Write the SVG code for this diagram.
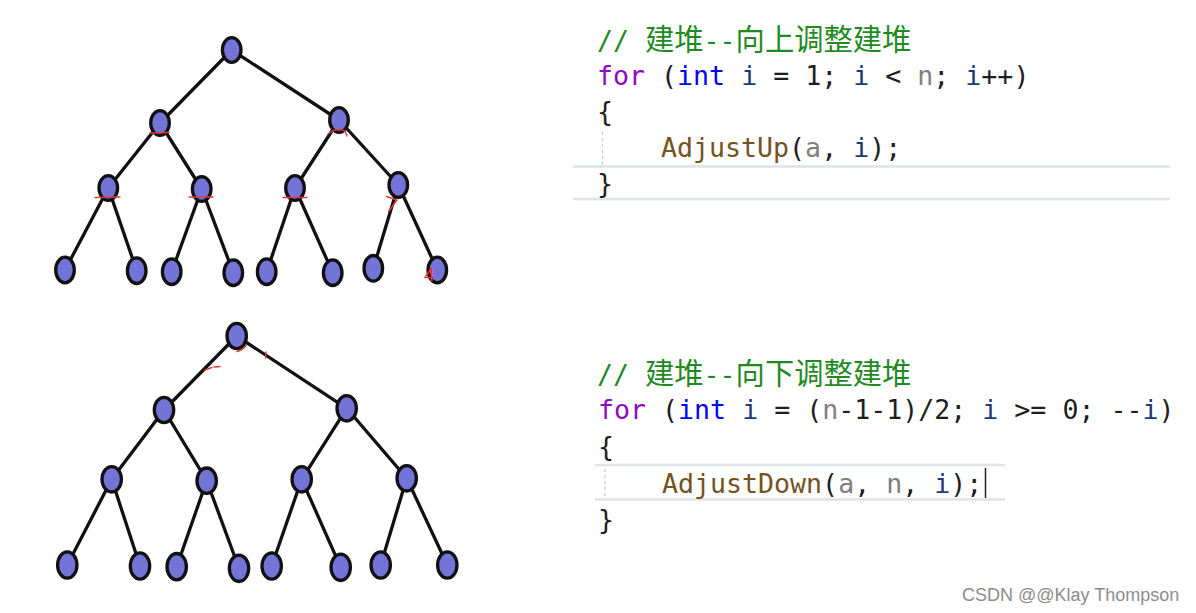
<svg xmlns="http://www.w3.org/2000/svg" width="1196" height="613" viewBox="0 0 1196 613">
<style>
.edge{stroke:#111;stroke-width:3.3;stroke-linecap:round;fill:none}
.node ellipse{fill:#7373d8;stroke:#111;stroke-width:3.3}
.mark{stroke:#e23a3a;stroke-width:1.4;fill:none;stroke-linecap:round}
.code{font-family:"DejaVu Sans Mono","Liberation Mono",monospace;font-size:26.6px;fill:#1e1e1e}
.cjk{font-family:"Noto Sans CJK SC","Noto Sans",sans-serif;font-size:29.3px;fill:#1f8a1f}
.cm{fill:#1f8a1f}
.kw{fill:#8f08c4}
.ty{fill:#0000ff}
.var{fill:#1f377f}
.par{fill:#808080}
.fn{fill:#74531f}
.sep{stroke:#e0e2ea;stroke-width:2.5}
.guide{stroke:#c8c8c8;stroke-width:1.2;stroke-dasharray:3 3}
</style>
<rect width="1196" height="613" fill="#ffffff"/>

<g id="connectors">
  <line class="edge" x1="231.7" y1="50" x2="160" y2="123"/>
  <line class="edge" x1="231.7" y1="50" x2="339" y2="120"/>
  <line class="edge" x1="160" y1="123" x2="108.3" y2="188"/>
  <line class="edge" x1="160" y1="123" x2="201.7" y2="189"/>
  <line class="edge" x1="339" y1="120" x2="295" y2="188"/>
  <line class="edge" x1="339" y1="120" x2="398.3" y2="185"/>
  <line class="edge" x1="108.3" y1="188" x2="65" y2="270"/>
  <line class="edge" x1="108.3" y1="188" x2="136.7" y2="270.7"/>
  <line class="edge" x1="201.7" y1="189" x2="171.7" y2="271.7"/>
  <line class="edge" x1="201.7" y1="189" x2="233.3" y2="272.7"/>
  <line class="edge" x1="295" y1="188" x2="266.7" y2="271.7"/>
  <line class="edge" x1="295" y1="188" x2="332.7" y2="272.7"/>
  <line class="edge" x1="398.3" y1="185" x2="373.3" y2="268.3"/>
  <line class="edge" x1="398.3" y1="185" x2="437.3" y2="270"/>
  <line class="edge" x1="236.7" y1="336" x2="164" y2="410"/>
  <line class="edge" x1="236.7" y1="336" x2="346.7" y2="408.3"/>
  <line class="edge" x1="164" y1="410" x2="111.7" y2="479.3"/>
  <line class="edge" x1="164" y1="410" x2="206.7" y2="480.7"/>
  <line class="edge" x1="346.7" y1="408.3" x2="301.7" y2="479.3"/>
  <line class="edge" x1="346.7" y1="408.3" x2="406.7" y2="478.3"/>
  <line class="edge" x1="111.7" y1="479.3" x2="67.3" y2="565"/>
  <line class="edge" x1="111.7" y1="479.3" x2="140" y2="566"/>
  <line class="edge" x1="206.7" y1="480.7" x2="176.7" y2="566.7"/>
  <line class="edge" x1="206.7" y1="480.7" x2="239" y2="568.3"/>
  <line class="edge" x1="301.7" y1="479.3" x2="271.7" y2="566"/>
  <line class="edge" x1="301.7" y1="479.3" x2="340.7" y2="567.3"/>
  <line class="edge" x1="406.7" y1="478.3" x2="380.7" y2="565"/>
  <line class="edge" x1="406.7" y1="478.3" x2="447.3" y2="565"/>
</g>

<g id="top-tree">
  <g id="t0" class="node"><ellipse cx="231.7" cy="50" rx="9.3" ry="12.3"/></g>
  <g id="t1" class="node"><ellipse cx="160" cy="123" rx="9.3" ry="12.3"/></g>
  <g id="t2" class="node"><ellipse cx="339" cy="120" rx="9.3" ry="12.3"/></g>
  <g id="t3" class="node"><ellipse cx="108.3" cy="188" rx="9.3" ry="12.3"/></g>
  <g id="t4" class="node"><ellipse cx="201.7" cy="189" rx="9.3" ry="12.3"/></g>
  <g id="t5" class="node"><ellipse cx="295" cy="188" rx="9.3" ry="12.3"/></g>
  <g id="t6" class="node"><ellipse cx="398.3" cy="185" rx="9.3" ry="12.3"/></g>
  <g id="t7" class="node"><ellipse cx="65" cy="270" rx="9.3" ry="12.8"/></g>
  <g id="t8" class="node"><ellipse cx="136.7" cy="270.7" rx="9.3" ry="12.8"/></g>
  <g id="t9" class="node"><ellipse cx="171.7" cy="271.7" rx="9.3" ry="12.8"/></g>
  <g id="t10" class="node"><ellipse cx="233.3" cy="272.7" rx="9.3" ry="12.8"/></g>
  <g id="t11" class="node"><ellipse cx="266.7" cy="271.7" rx="9.3" ry="12.8"/></g>
  <g id="t12" class="node"><ellipse cx="332.7" cy="272.7" rx="9.3" ry="12.8"/></g>
  <g id="t13" class="node"><ellipse cx="373.3" cy="268.3" rx="9.3" ry="12.8"/></g>
  <g id="t14" class="node"><ellipse cx="437.3" cy="270" rx="9.3" ry="12.8"/></g>
</g>

<g id="top-marks">
  <line class="mark" x1="150" y1="133" x2="169" y2="132.5"/>
  <path class="mark" d="M328,134 Q337,127 345,131 L347,136"/>
  <line class="mark" x1="95" y1="197.5" x2="120" y2="197"/>
  <line class="mark" x1="189" y1="197" x2="213" y2="197"/>
  <line class="mark" x1="283" y1="197.5" x2="307" y2="197.5"/>
  <path class="mark" d="M386.5,196.5 L397,200 L388.5,211.5"/>
  <text x="424" y="281" font-family="Liberation Sans, sans-serif" font-size="19" fill="#ff2a2a">4</text>
</g>

<g id="bottom-tree">
  <g id="b0" class="node"><ellipse cx="236.7" cy="336" rx="9.7" ry="12.7"/></g>
  <g id="b1" class="node"><ellipse cx="164" cy="410" rx="9.7" ry="12.7"/></g>
  <g id="b2" class="node"><ellipse cx="346.7" cy="408.3" rx="9.7" ry="12.7"/></g>
  <g id="b3" class="node"><ellipse cx="111.7" cy="479.3" rx="9.7" ry="12.7"/></g>
  <g id="b4" class="node"><ellipse cx="206.7" cy="480.7" rx="9.7" ry="12.7"/></g>
  <g id="b5" class="node"><ellipse cx="301.7" cy="479.3" rx="9.7" ry="12.7"/></g>
  <g id="b6" class="node"><ellipse cx="406.7" cy="478.3" rx="9.7" ry="12.7"/></g>
  <g id="b7" class="node"><ellipse cx="67.3" cy="565" rx="9.7" ry="13.2"/></g>
  <g id="b8" class="node"><ellipse cx="140" cy="566" rx="9.7" ry="13.2"/></g>
  <g id="b9" class="node"><ellipse cx="176.7" cy="566.7" rx="9.7" ry="13.2"/></g>
  <g id="b10" class="node"><ellipse cx="239" cy="568.3" rx="9.7" ry="13.2"/></g>
  <g id="b11" class="node"><ellipse cx="271.7" cy="566" rx="9.7" ry="13.2"/></g>
  <g id="b12" class="node"><ellipse cx="340.7" cy="567.3" rx="9.7" ry="13.2"/></g>
  <g id="b13" class="node"><ellipse cx="380.7" cy="565" rx="9.7" ry="13.2"/></g>
  <g id="b14" class="node"><ellipse cx="447.3" cy="565" rx="9.7" ry="13.2"/></g>
</g>

<g id="bottom-marks">
  <path class="mark" d="M205,370 L212,367.5 M214,367 L220,366.5"/>
  <path class="mark" d="M237,351.5 Q243,350 246.5,345"/>
  <line class="mark" x1="266" y1="352" x2="265.5" y2="358"/>
</g>

<g id="code-top">
  <line class="sep" x1="573" y1="166.5" x2="1170" y2="166.5"/>
  <line class="sep" x1="573" y1="199" x2="1170" y2="199"/>
  <line class="guide" x1="602.5" y1="132" x2="602.5" y2="164"/>
  <text class="code cm" x="597" y="50">//</text>
  <text class="cjk" x="645" y="50">建堆</text>
  <text class="code cm" x="703.6" y="50">--</text>
  <text class="cjk" x="735.6" y="50">向上调整建堆</text>
  <text class="code" x="597" y="84.5" xml:space="preserve"><tspan class="kw">for</tspan> (<tspan class="ty">int</tspan> <tspan class="var">i</tspan> = 1; <tspan class="var">i</tspan> &lt; <tspan class="par">n</tspan>; <tspan class="var">i</tspan>++)</text>
  <text class="code" x="597" y="120.5">{</text>
  <text class="code" x="661" y="156.5" xml:space="preserve"><tspan class="fn">AdjustUp</tspan>(<tspan class="par">a</tspan>, <tspan class="var">i</tspan>);</text>
  <text class="code" x="597" y="192.5">}</text>
</g>

<g id="code-bottom">
  <line class="sep" x1="595" y1="465" x2="1005" y2="465"/>
  <line class="sep" x1="595" y1="499.5" x2="1005" y2="499.5"/>
  <line class="guide" x1="605" y1="469" x2="605" y2="498"/>
  <text class="code cm" x="597" y="384">//</text>
  <text class="cjk" x="645" y="384">建堆</text>
  <text class="code cm" x="703.6" y="384">--</text>
  <text class="cjk" x="735.6" y="384">向下调整建堆</text>
  <text class="code" x="598" y="418.5" xml:space="preserve"><tspan class="kw">for</tspan> (<tspan class="ty">int</tspan> <tspan class="var">i</tspan> = (<tspan class="par">n</tspan>-1-1)/2; <tspan class="var">i</tspan> &gt;= 0; --<tspan class="var">i</tspan>)</text>
  <text class="code" x="598" y="455.5">{</text>
  <text class="code" x="662" y="492.5" xml:space="preserve"><tspan class="fn">AdjustDown</tspan>(<tspan class="par">a</tspan>, <tspan class="par">n</tspan>, <tspan class="var">i</tspan>);</text>
  <line x1="985.5" y1="468" x2="985.5" y2="498" stroke="#222" stroke-width="1.5"/>
  <text class="code" x="598" y="529">}</text>
</g>

<text x="962" y="601" font-family="Liberation Sans, Arial, sans-serif" font-size="18" fill="#8c8c8c">CSDN @@Klay Thompson</text>
</svg>
